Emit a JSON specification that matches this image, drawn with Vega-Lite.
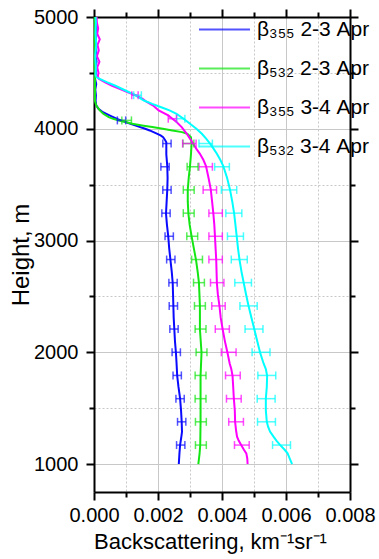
{
  "$schema": "https://vega.github.io/schema/vega-lite/v6.json",
  "width": 256,
  "height": 475,
  "autosize": {"type": "none"},
  "padding": {"left": 94, "top": 17, "right": 29, "bottom": 67},
  "background": "white",
  "config": {
    "view": {"stroke": null},
    "font": "Liberation Sans",
    "axis": {
      "labelFont": "Liberation Sans", "titleFont": "Liberation Sans",
      "labelColor": "black", "titleColor": "black",
      "domainColor": "black", "domainWidth": 2, "tickColor": "black", "tickWidth": 2,
      "gridColor": "#c8c8c8", "gridWidth": 1, "titleFontWeight": "normal"
    }
  },
  "datasets": {
    "lines": [
      {"s":"β₃₅₅ 2-3 Apr","h":1000,"b":0.00265},{"s":"β₃₅₅ 2-3 Apr","h":1096,"b":0.00267},{"s":"β₃₅₅ 2-3 Apr","h":1170,"b":0.00269},{"s":"β₃₅₅ 2-3 Apr","h":1245,"b":0.00273},{"s":"β₃₅₅ 2-3 Apr","h":1289,"b":0.00275},{"s":"β₃₅₅ 2-3 Apr","h":1378,"b":0.00274},{"s":"β₃₅₅ 2-3 Apr","h":1480,"b":0.00272},{"s":"β₃₅₅ 2-3 Apr","h":1587,"b":0.00269},{"s":"β₃₅₅ 2-3 Apr","h":1690,"b":0.00264},{"s":"β₃₅₅ 2-3 Apr","h":1789,"b":0.00260},{"s":"β₃₅₅ 2-3 Apr","h":1900,"b":0.00258},{"s":"β₃₅₅ 2-3 Apr","h":1998,"b":0.00256},{"s":"β₃₅₅ 2-3 Apr","h":2100,"b":0.00253},{"s":"β₃₅₅ 2-3 Apr","h":2206,"b":0.00251},{"s":"β₃₅₅ 2-3 Apr","h":2310,"b":0.00249},{"s":"β₃₅₅ 2-3 Apr","h":2415,"b":0.00248},{"s":"β₃₅₅ 2-3 Apr","h":2520,"b":0.00247},{"s":"β₃₅₅ 2-3 Apr","h":2620,"b":0.00246},{"s":"β₃₅₅ 2-3 Apr","h":2720,"b":0.00243},{"s":"β₃₅₅ 2-3 Apr","h":2823,"b":0.00239},{"s":"β₃₅₅ 2-3 Apr","h":2930,"b":0.00235},{"s":"β₃₅₅ 2-3 Apr","h":3037,"b":0.00232},{"s":"β₃₅₅ 2-3 Apr","h":3140,"b":0.00228},{"s":"β₃₅₅ 2-3 Apr","h":3240,"b":0.00225},{"s":"β₃₅₅ 2-3 Apr","h":3350,"b":0.00227},{"s":"β₃₅₅ 2-3 Apr","h":3455,"b":0.00229},{"s":"β₃₅₅ 2-3 Apr","h":3560,"b":0.00230},{"s":"β₃₅₅ 2-3 Apr","h":3666,"b":0.00229},{"s":"β₃₅₅ 2-3 Apr","h":3770,"b":0.00226},{"s":"β₃₅₅ 2-3 Apr","h":3880,"b":0.00226},{"s":"β₃₅₅ 2-3 Apr","h":3900,"b":0.00222},{"s":"β₃₅₅ 2-3 Apr","h":3925,"b":0.00216},{"s":"β₃₅₅ 2-3 Apr","h":3940,"b":0.00208},{"s":"β₃₅₅ 2-3 Apr","h":3955,"b":0.00198},{"s":"β₃₅₅ 2-3 Apr","h":3970,"b":0.00186},{"s":"β₃₅₅ 2-3 Apr","h":3985,"b":0.00174},{"s":"β₃₅₅ 2-3 Apr","h":4000,"b":0.00160},{"s":"β₃₅₅ 2-3 Apr","h":4030,"b":0.00128},{"s":"β₃₅₅ 2-3 Apr","h":4060,"b":0.00098},{"s":"β₃₅₅ 2-3 Apr","h":4089,"b":0.00072},{"s":"β₃₅₅ 2-3 Apr","h":4118,"b":0.00050},{"s":"β₃₅₅ 2-3 Apr","h":4148,"b":0.00028},{"s":"β₃₅₅ 2-3 Apr","h":4179,"b":0.00014},{"s":"β₃₅₅ 2-3 Apr","h":4209,"b":0.00007},{"s":"β₃₅₅ 2-3 Apr","h":4250,"b":0.00005},{"s":"β₃₅₅ 2-3 Apr","h":4300,"b":0.00006},{"s":"β₃₅₅ 2-3 Apr","h":4350,"b":0.00004},{"s":"β₃₅₅ 2-3 Apr","h":4400,"b":0.00007},{"s":"β₃₅₅ 2-3 Apr","h":4450,"b":0.00003},{"s":"β₃₅₅ 2-3 Apr","h":4500,"b":0.00006},{"s":"β₃₅₅ 2-3 Apr","h":4550,"b":0.00004},{"s":"β₃₅₅ 2-3 Apr","h":4600,"b":0.00008},{"s":"β₃₅₅ 2-3 Apr","h":4650,"b":0.00005},{"s":"β₃₅₅ 2-3 Apr","h":4700,"b":0.00007},{"s":"β₃₅₅ 2-3 Apr","h":4750,"b":0.00004},{"s":"β₃₅₅ 2-3 Apr","h":4800,"b":0.00006},{"s":"β₃₅₅ 2-3 Apr","h":4850,"b":0.00005},{"s":"β₃₅₅ 2-3 Apr","h":4900,"b":0.00007},{"s":"β₃₅₅ 2-3 Apr","h":4950,"b":0.00006},{"s":"β₃₅₅ 2-3 Apr","h":5000,"b":0.00005},

      {"s":"β₅₃₂ 2-3 Apr","h":1000,"b":0.00326},{"s":"β₅₃₂ 2-3 Apr","h":1096,"b":0.00330},{"s":"β₅₃₂ 2-3 Apr","h":1170,"b":0.00332},{"s":"β₅₃₂ 2-3 Apr","h":1378,"b":0.00333},{"s":"β₅₃₂ 2-3 Apr","h":1587,"b":0.00333},{"s":"β₅₃₂ 2-3 Apr","h":1789,"b":0.00333},{"s":"β₅₃₂ 2-3 Apr","h":1998,"b":0.00336},{"s":"β₅₃₂ 2-3 Apr","h":2206,"b":0.00331},{"s":"β₅₃₂ 2-3 Apr","h":2415,"b":0.00331},{"s":"β₅₃₂ 2-3 Apr","h":2620,"b":0.00328},{"s":"β₅₃₂ 2-3 Apr","h":2720,"b":0.00324},{"s":"β₅₃₂ 2-3 Apr","h":2823,"b":0.00319},{"s":"β₅₃₂ 2-3 Apr","h":2930,"b":0.00312},{"s":"β₅₃₂ 2-3 Apr","h":3037,"b":0.00305},{"s":"β₅₃₂ 2-3 Apr","h":3140,"b":0.00299},{"s":"β₅₃₂ 2-3 Apr","h":3240,"b":0.00295},{"s":"β₅₃₂ 2-3 Apr","h":3350,"b":0.00293},{"s":"β₅₃₂ 2-3 Apr","h":3455,"b":0.00293},{"s":"β₅₃₂ 2-3 Apr","h":3560,"b":0.00296},{"s":"β₅₃₂ 2-3 Apr","h":3666,"b":0.00300},{"s":"β₅₃₂ 2-3 Apr","h":3770,"b":0.00303},{"s":"β₅₃₂ 2-3 Apr","h":3866,"b":0.00305},{"s":"β₅₃₂ 2-3 Apr","h":3925,"b":0.00303},{"s":"β₅₃₂ 2-3 Apr","h":3955,"b":0.00292},{"s":"β₅₃₂ 2-3 Apr","h":3970,"b":0.00275},{"s":"β₅₃₂ 2-3 Apr","h":3985,"b":0.00245},{"s":"β₅₃₂ 2-3 Apr","h":4000,"b":0.00215},{"s":"β₅₃₂ 2-3 Apr","h":4015,"b":0.00182},{"s":"β₅₃₂ 2-3 Apr","h":4030,"b":0.00150},{"s":"β₅₃₂ 2-3 Apr","h":4045,"b":0.00120},{"s":"β₅₃₂ 2-3 Apr","h":4060,"b":0.00098},{"s":"β₅₃₂ 2-3 Apr","h":4074,"b":0.00078},{"s":"β₅₃₂ 2-3 Apr","h":4089,"b":0.00060},{"s":"β₅₃₂ 2-3 Apr","h":4104,"b":0.00046},{"s":"β₅₃₂ 2-3 Apr","h":4134,"b":0.00029},{"s":"β₅₃₂ 2-3 Apr","h":4164,"b":0.00018},{"s":"β₅₃₂ 2-3 Apr","h":4208,"b":0.00007},{"s":"β₅₃₂ 2-3 Apr","h":4250,"b":0.00003},{"s":"β₅₃₂ 2-3 Apr","h":4300,"b":0.00003},{"s":"β₅₃₂ 2-3 Apr","h":4400,"b":0.00003},{"s":"β₅₃₂ 2-3 Apr","h":4500,"b":0.00003},{"s":"β₅₃₂ 2-3 Apr","h":4600,"b":0.00002},{"s":"β₅₃₂ 2-3 Apr","h":4700,"b":0.00003},{"s":"β₅₃₂ 2-3 Apr","h":4800,"b":0.00002},{"s":"β₅₃₂ 2-3 Apr","h":4900,"b":0.00003},{"s":"β₅₃₂ 2-3 Apr","h":5000,"b":0.00002},

      {"s":"β₃₅₅ 3-4 Apr","h":1000,"b":0.00480},{"s":"β₃₅₅ 3-4 Apr","h":1050,"b":0.00479},{"s":"β₃₅₅ 3-4 Apr","h":1096,"b":0.00476},{"s":"β₃₅₅ 3-4 Apr","h":1130,"b":0.00468},{"s":"β₃₅₅ 3-4 Apr","h":1170,"b":0.00460},{"s":"β₃₅₅ 3-4 Apr","h":1210,"b":0.00452},{"s":"β₃₅₅ 3-4 Apr","h":1245,"b":0.00447},{"s":"β₃₅₅ 3-4 Apr","h":1300,"b":0.00444},{"s":"β₃₅₅ 3-4 Apr","h":1378,"b":0.00441},{"s":"β₃₅₅ 3-4 Apr","h":1480,"b":0.00440},{"s":"β₃₅₅ 3-4 Apr","h":1587,"b":0.00437},{"s":"β₃₅₅ 3-4 Apr","h":1690,"b":0.00435},{"s":"β₃₅₅ 3-4 Apr","h":1789,"b":0.00433},{"s":"β₃₅₅ 3-4 Apr","h":1850,"b":0.00429},{"s":"β₃₅₅ 3-4 Apr","h":1900,"b":0.00424},{"s":"β₃₅₅ 3-4 Apr","h":1998,"b":0.00417},{"s":"β₃₅₅ 3-4 Apr","h":2100,"b":0.00409},{"s":"β₃₅₅ 3-4 Apr","h":2206,"b":0.00402},{"s":"β₃₅₅ 3-4 Apr","h":2310,"b":0.00396},{"s":"β₃₅₅ 3-4 Apr","h":2415,"b":0.00392},{"s":"β₃₅₅ 3-4 Apr","h":2520,"b":0.00387},{"s":"β₃₅₅ 3-4 Apr","h":2620,"b":0.00384},{"s":"β₃₅₅ 3-4 Apr","h":2720,"b":0.00383},{"s":"β₃₅₅ 3-4 Apr","h":2823,"b":0.00382},{"s":"β₃₅₅ 3-4 Apr","h":2930,"b":0.00380},{"s":"β₃₅₅ 3-4 Apr","h":3037,"b":0.00378},{"s":"β₃₅₅ 3-4 Apr","h":3140,"b":0.00376},{"s":"β₃₅₅ 3-4 Apr","h":3240,"b":0.00373},{"s":"β₃₅₅ 3-4 Apr","h":3350,"b":0.00369},{"s":"β₃₅₅ 3-4 Apr","h":3455,"b":0.00365},{"s":"β₃₅₅ 3-4 Apr","h":3560,"b":0.00358},{"s":"β₃₅₅ 3-4 Apr","h":3666,"b":0.00350},{"s":"β₃₅₅ 3-4 Apr","h":3720,"b":0.00342},{"s":"β₃₅₅ 3-4 Apr","h":3776,"b":0.00331},{"s":"β₃₅₅ 3-4 Apr","h":3820,"b":0.00320},{"s":"β₃₅₅ 3-4 Apr","h":3866,"b":0.00310},{"s":"β₃₅₅ 3-4 Apr","h":3910,"b":0.00300},{"s":"β₃₅₅ 3-4 Apr","h":3955,"b":0.00290},{"s":"β₃₅₅ 3-4 Apr","h":4015,"b":0.00274},{"s":"β₃₅₅ 3-4 Apr","h":4060,"b":0.00258},{"s":"β₃₅₅ 3-4 Apr","h":4089,"b":0.00245},{"s":"β₃₅₅ 3-4 Apr","h":4119,"b":0.00232},{"s":"β₃₅₅ 3-4 Apr","h":4164,"b":0.00202},{"s":"β₃₅₅ 3-4 Apr","h":4208,"b":0.00185},{"s":"β₃₅₅ 3-4 Apr","h":4240,"b":0.00165},{"s":"β₃₅₅ 3-4 Apr","h":4268,"b":0.00152},{"s":"β₃₅₅ 3-4 Apr","h":4300,"b":0.00130},{"s":"β₃₅₅ 3-4 Apr","h":4327,"b":0.00106},{"s":"β₃₅₅ 3-4 Apr","h":4357,"b":0.00080},{"s":"β₃₅₅ 3-4 Apr","h":4387,"b":0.00055},{"s":"β₃₅₅ 3-4 Apr","h":4416,"b":0.00035},{"s":"β₃₅₅ 3-4 Apr","h":4447,"b":0.00015},{"s":"β₃₅₅ 3-4 Apr","h":4470,"b":0.00012},{"s":"β₃₅₅ 3-4 Apr","h":4500,"b":0.00014},{"s":"β₃₅₅ 3-4 Apr","h":4550,"b":0.00010},{"s":"β₃₅₅ 3-4 Apr","h":4600,"b":0.00017},{"s":"β₃₅₅ 3-4 Apr","h":4650,"b":0.00009},{"s":"β₃₅₅ 3-4 Apr","h":4700,"b":0.00015},{"s":"β₃₅₅ 3-4 Apr","h":4750,"b":0.00011},{"s":"β₃₅₅ 3-4 Apr","h":4800,"b":0.00018},{"s":"β₃₅₅ 3-4 Apr","h":4850,"b":0.00010},{"s":"β₃₅₅ 3-4 Apr","h":4900,"b":0.00013},{"s":"β₃₅₅ 3-4 Apr","h":4950,"b":0.00009},{"s":"β₃₅₅ 3-4 Apr","h":5000,"b":0.00008},

      {"s":"β₅₃₂ 3-4 Apr","h":1000,"b":0.00619},{"s":"β₅₃₂ 3-4 Apr","h":1040,"b":0.00613},{"s":"β₅₃₂ 3-4 Apr","h":1096,"b":0.00605},{"s":"β₅₃₂ 3-4 Apr","h":1130,"b":0.00595},{"s":"β₅₃₂ 3-4 Apr","h":1170,"b":0.00582},{"s":"β₅₃₂ 3-4 Apr","h":1210,"b":0.00570},{"s":"β₅₃₂ 3-4 Apr","h":1245,"b":0.00561},{"s":"β₅₃₂ 3-4 Apr","h":1290,"b":0.00550},{"s":"β₅₃₂ 3-4 Apr","h":1334,"b":0.00544},{"s":"β₅₃₂ 3-4 Apr","h":1378,"b":0.00540},{"s":"β₅₃₂ 3-4 Apr","h":1480,"b":0.00537},{"s":"β₅₃₂ 3-4 Apr","h":1587,"b":0.00537},{"s":"β₅₃₂ 3-4 Apr","h":1690,"b":0.00540},{"s":"β₅₃₂ 3-4 Apr","h":1789,"b":0.00541},{"s":"β₅₃₂ 3-4 Apr","h":1850,"b":0.00537},{"s":"β₅₃₂ 3-4 Apr","h":1900,"b":0.00530},{"s":"β₅₃₂ 3-4 Apr","h":1998,"b":0.00519},{"s":"β₅₃₂ 3-4 Apr","h":2100,"b":0.00510},{"s":"β₅₃₂ 3-4 Apr","h":2206,"b":0.00501},{"s":"β₅₃₂ 3-4 Apr","h":2310,"b":0.00492},{"s":"β₅₃₂ 3-4 Apr","h":2415,"b":0.00483},{"s":"β₅₃₂ 3-4 Apr","h":2520,"b":0.00475},{"s":"β₅₃₂ 3-4 Apr","h":2620,"b":0.00468},{"s":"β₅₃₂ 3-4 Apr","h":2720,"b":0.00461},{"s":"β₅₃₂ 3-4 Apr","h":2823,"b":0.00455},{"s":"β₅₃₂ 3-4 Apr","h":2930,"b":0.00450},{"s":"β₅₃₂ 3-4 Apr","h":3037,"b":0.00446},{"s":"β₅₃₂ 3-4 Apr","h":3140,"b":0.00442},{"s":"β₅₃₂ 3-4 Apr","h":3240,"b":0.00438},{"s":"β₅₃₂ 3-4 Apr","h":3350,"b":0.00432},{"s":"β₅₃₂ 3-4 Apr","h":3455,"b":0.00425},{"s":"β₅₃₂ 3-4 Apr","h":3560,"b":0.00416},{"s":"β₅₃₂ 3-4 Apr","h":3666,"b":0.00404},{"s":"β₅₃₂ 3-4 Apr","h":3720,"b":0.00395},{"s":"β₅₃₂ 3-4 Apr","h":3776,"b":0.00384},{"s":"β₅₃₂ 3-4 Apr","h":3820,"b":0.00374},{"s":"β₅₃₂ 3-4 Apr","h":3866,"b":0.00363},{"s":"β₅₃₂ 3-4 Apr","h":3910,"b":0.00351},{"s":"β₅₃₂ 3-4 Apr","h":3955,"b":0.00337},{"s":"β₅₃₂ 3-4 Apr","h":4000,"b":0.00320},{"s":"β₅₃₂ 3-4 Apr","h":4045,"b":0.00300},{"s":"β₅₃₂ 3-4 Apr","h":4089,"b":0.00280},{"s":"β₅₃₂ 3-4 Apr","h":4134,"b":0.00258},{"s":"β₅₃₂ 3-4 Apr","h":4164,"b":0.00236},{"s":"β₅₃₂ 3-4 Apr","h":4193,"b":0.00210},{"s":"β₅₃₂ 3-4 Apr","h":4223,"b":0.00182},{"s":"β₅₃₂ 3-4 Apr","h":4253,"b":0.00156},{"s":"β₅₃₂ 3-4 Apr","h":4298,"b":0.00130},{"s":"β₅₃₂ 3-4 Apr","h":4340,"b":0.00100},{"s":"β₅₃₂ 3-4 Apr","h":4387,"b":0.00065},{"s":"β₅₃₂ 3-4 Apr","h":4417,"b":0.00040},{"s":"β₅₃₂ 3-4 Apr","h":4447,"b":0.00018},{"s":"β₅₃₂ 3-4 Apr","h":4460,"b":0.00008},{"s":"β₅₃₂ 3-4 Apr","h":4480,"b":0.00005},{"s":"β₅₃₂ 3-4 Apr","h":4550,"b":0.00006},{"s":"β₅₃₂ 3-4 Apr","h":4650,"b":0.00004},{"s":"β₅₃₂ 3-4 Apr","h":4750,"b":0.00007},{"s":"β₅₃₂ 3-4 Apr","h":4850,"b":0.00005},{"s":"β₅₃₂ 3-4 Apr","h":4950,"b":0.00006},{"s":"β₅₃₂ 3-4 Apr","h":5000,"b":0.00005}
    ],
    "bars": [
      {"s":"β₃₅₅ 2-3 Apr","h":1170,"lo":0.00258,"hi":0.00284},{"s":"β₃₅₅ 2-3 Apr","h":1378,"lo":0.00261,"hi":0.00287},{"s":"β₃₅₅ 2-3 Apr","h":1585,"lo":0.00256,"hi":0.00282},{"s":"β₃₅₅ 2-3 Apr","h":1793,"lo":0.00247,"hi":0.00273},{"s":"β₃₅₅ 2-3 Apr","h":2000,"lo":0.00244,"hi":0.00270},{"s":"β₃₅₅ 2-3 Apr","h":2208,"lo":0.00237,"hi":0.00263},{"s":"β₃₅₅ 2-3 Apr","h":2415,"lo":0.00235,"hi":0.00261},{"s":"β₃₅₅ 2-3 Apr","h":2623,"lo":0.00234,"hi":0.00260},{"s":"β₃₅₅ 2-3 Apr","h":2830,"lo":0.00227,"hi":0.00253},{"s":"β₃₅₅ 2-3 Apr","h":3038,"lo":0.00222,"hi":0.00248},{"s":"β₃₅₅ 2-3 Apr","h":3245,"lo":0.00212,"hi":0.00238},{"s":"β₃₅₅ 2-3 Apr","h":3453,"lo":0.00215,"hi":0.00241},{"s":"β₃₅₅ 2-3 Apr","h":3660,"lo":0.00209,"hi":0.00235},{"s":"β₃₅₅ 2-3 Apr","h":3868,"lo":0.00215,"hi":0.00241},{"s":"β₃₅₅ 2-3 Apr","h":4075,"lo":0.00073,"hi":0.00099},
      {"s":"β₅₃₂ 2-3 Apr","h":1170,"lo":0.00317,"hi":0.00351},{"s":"β₅₃₂ 2-3 Apr","h":1378,"lo":0.00317,"hi":0.00351},{"s":"β₅₃₂ 2-3 Apr","h":1585,"lo":0.00316,"hi":0.00350},{"s":"β₅₃₂ 2-3 Apr","h":1793,"lo":0.00316,"hi":0.00350},{"s":"β₅₃₂ 2-3 Apr","h":2000,"lo":0.00319,"hi":0.00353},{"s":"β₅₃₂ 2-3 Apr","h":2208,"lo":0.00316,"hi":0.00350},{"s":"β₅₃₂ 2-3 Apr","h":2415,"lo":0.00314,"hi":0.00348},{"s":"β₅₃₂ 2-3 Apr","h":2623,"lo":0.00311,"hi":0.00345},{"s":"β₅₃₂ 2-3 Apr","h":2830,"lo":0.00305,"hi":0.00339},{"s":"β₅₃₂ 2-3 Apr","h":3038,"lo":0.00290,"hi":0.00324},{"s":"β₅₃₂ 2-3 Apr","h":3245,"lo":0.00279,"hi":0.00313},{"s":"β₅₃₂ 2-3 Apr","h":3453,"lo":0.00279,"hi":0.00313},{"s":"β₅₃₂ 2-3 Apr","h":3660,"lo":0.00291,"hi":0.00325},{"s":"β₅₃₂ 2-3 Apr","h":3868,"lo":0.00278,"hi":0.00312},{"s":"β₅₃₂ 2-3 Apr","h":4075,"lo":0.00087,"hi":0.00117},
      {"s":"β₃₅₅ 3-4 Apr","h":1170,"lo":0.00439,"hi":0.00485},{"s":"β₃₅₅ 3-4 Apr","h":1378,"lo":0.00421,"hi":0.00467},{"s":"β₃₅₅ 3-4 Apr","h":1585,"lo":0.00414,"hi":0.00460},{"s":"β₃₅₅ 3-4 Apr","h":1793,"lo":0.00411,"hi":0.00457},{"s":"β₃₅₅ 3-4 Apr","h":2000,"lo":0.00398,"hi":0.00444},{"s":"β₃₅₅ 3-4 Apr","h":2208,"lo":0.00379,"hi":0.00423},{"s":"β₃₅₅ 3-4 Apr","h":2415,"lo":0.00368,"hi":0.00410},{"s":"β₃₅₅ 3-4 Apr","h":2623,"lo":0.00364,"hi":0.00406},{"s":"β₃₅₅ 3-4 Apr","h":2830,"lo":0.00359,"hi":0.00401},{"s":"β₃₅₅ 3-4 Apr","h":3038,"lo":0.00359,"hi":0.00401},{"s":"β₃₅₅ 3-4 Apr","h":3245,"lo":0.00359,"hi":0.00401},{"s":"β₃₅₅ 3-4 Apr","h":3453,"lo":0.00341,"hi":0.00383},{"s":"β₃₅₅ 3-4 Apr","h":3660,"lo":0.00328,"hi":0.00370},{"s":"β₃₅₅ 3-4 Apr","h":3868,"lo":0.00277,"hi":0.00319},{"s":"β₃₅₅ 3-4 Apr","h":4090,"lo":0.00232,"hi":0.00258},{"s":"β₃₅₅ 3-4 Apr","h":4300,"lo":0.00118,"hi":0.00138},
      {"s":"β₅₃₂ 3-4 Apr","h":1170,"lo":0.00558,"hi":0.00614},{"s":"β₅₃₂ 3-4 Apr","h":1378,"lo":0.00511,"hi":0.00567},{"s":"β₅₃₂ 3-4 Apr","h":1585,"lo":0.00510,"hi":0.00566},{"s":"β₅₃₂ 3-4 Apr","h":1793,"lo":0.00512,"hi":0.00568},{"s":"β₅₃₂ 3-4 Apr","h":2000,"lo":0.00494,"hi":0.00550},{"s":"β₅₃₂ 3-4 Apr","h":2208,"lo":0.00472,"hi":0.00528},{"s":"β₅₃₂ 3-4 Apr","h":2415,"lo":0.00456,"hi":0.00510},{"s":"β₅₃₂ 3-4 Apr","h":2623,"lo":0.00440,"hi":0.00492},{"s":"β₅₃₂ 3-4 Apr","h":2830,"lo":0.00429,"hi":0.00479},{"s":"β₅₃₂ 3-4 Apr","h":3038,"lo":0.00417,"hi":0.00467},{"s":"β₅₃₂ 3-4 Apr","h":3245,"lo":0.00412,"hi":0.00462},{"s":"β₅₃₂ 3-4 Apr","h":3453,"lo":0.00398,"hi":0.00446},{"s":"β₅₃₂ 3-4 Apr","h":3660,"lo":0.00377,"hi":0.00423},{"s":"β₅₃₂ 3-4 Apr","h":3868,"lo":0.00328,"hi":0.00370},{"s":"β₅₃₂ 3-4 Apr","h":4090,"lo":0.00258,"hi":0.00284},{"s":"β₅₃₂ 3-4 Apr","h":4300,"lo":0.00124,"hi":0.00148}
    ]
  },
  "resolve": {"scale": {"x": "shared", "y": "shared", "color": "shared"}, "axis": {"x": "independent", "y": "independent"}},
  "layer": [
    {
      "data": {"name": "lines"},
      "mark": {"type": "line", "strokeWidth": 2},
      "encoding": {
        "x": {"field": "b", "type": "quantitative",
          "scale": {"domain": [0, 0.008], "nice": false, "zero": false},
          "axis": {"orient": "bottom", "values": [0, 0.002, 0.004, 0.006, 0.008], "format": ".3f",
            "title": "Backscattering, km⁻¹sr⁻¹", "titleFontSize": 22, "titlePadding": 6,
            "titleAnchor": "middle", "titleX": 116,
            "labelFontSize": 20, "labelPadding": 5, "tickSize": 8, "grid": true, "labelFlush": false}},
        "y": {"field": "h", "type": "quantitative",
          "scale": {"domain": [750, 5000], "nice": false, "zero": false},
          "axis": {"orient": "left", "values": [1000, 2000, 3000, 4000, 5000], "format": "d",
            "title": "Height, m", "titleFontSize": 24, "titlePadding": 0,
            "labelFontSize": 20, "labelPadding": 8, "tickSize": 8, "grid": true}},
        "color": {"field": "s", "type": "nominal",
          "scale": {"domain": ["β₃₅₅ 2-3 Apr", "β₅₃₂ 2-3 Apr", "β₃₅₅ 3-4 Apr", "β₅₃₂ 3-4 Apr"],
            "range": ["#0a0aff", "#14e614", "#ff00ff", "#00ffff"]},
          "legend": {"title": null, "orient": "none", "legendX": 104, "legendY": -14,
            "symbolType": "stroke", "symbolSize": 2601, "symbolStrokeWidth": 2,
            "labelFontSize": 21, "labelFont": "Liberation Sans", "labelColor": "black",
            "labelOffset": 6, "rowPadding": 2, "padding": 0, "labelLimit": 300}},
        "order": {"field": "h", "type": "quantitative"}
      }
    },
    {
      "data": {"name": "bars"},
      "mark": {"type": "errorbar", "ticks": {"opacity": 0.7, "strokeWidth": 1.5}, "rule": {"opacity": 0.7, "strokeWidth": 1.5}, "size": 8, "thickness": 1.5},
      "encoding": {
        "x": {"field": "lo", "type": "quantitative",
          "axis": {"orient": "bottom", "values": [0.001, 0.003, 0.005, 0.007], "labels": false, "title": null,
            "domain": false, "tickSize": 5, "grid": true, "gridDash": [2, 2]}},
        "x2": {"field": "hi"},
        "y": {"field": "h", "type": "quantitative",
          "axis": {"orient": "left", "values": [1500, 2500, 3500, 4500], "labels": false, "title": null,
            "domain": false, "tickSize": 5, "grid": true, "gridDash": [2, 2]}},
        "color": {"field": "s", "type": "nominal"}
      }
    },
    {
      "data": {"name": "lines"},
      "mark": {"type": "point", "opacity": 0},
      "encoding": {
        "x": {"field": "b", "type": "quantitative",
          "axis": {"orient": "top", "values": [0, 0.002, 0.004, 0.006, 0.008], "labels": false, "title": null, "tickSize": 8, "grid": false}},
        "y": {"field": "h", "type": "quantitative",
          "axis": {"orient": "right", "values": [1000, 2000, 3000, 4000, 5000], "labels": false, "title": null, "tickSize": 8, "grid": false}}
      }
    },
    {
      "data": {"name": "lines"},
      "mark": {"type": "point", "opacity": 0},
      "encoding": {
        "x": {"field": "b", "type": "quantitative",
          "axis": {"orient": "top", "values": [0.001, 0.003, 0.005, 0.007], "labels": false, "title": null, "domain": false, "tickSize": 5, "grid": false}},
        "y": {"field": "h", "type": "quantitative",
          "axis": {"orient": "right", "values": [1500, 2500, 3500, 4500], "labels": false, "title": null, "domain": false, "tickSize": 5, "grid": false}}
      }
    }
  ]
}
